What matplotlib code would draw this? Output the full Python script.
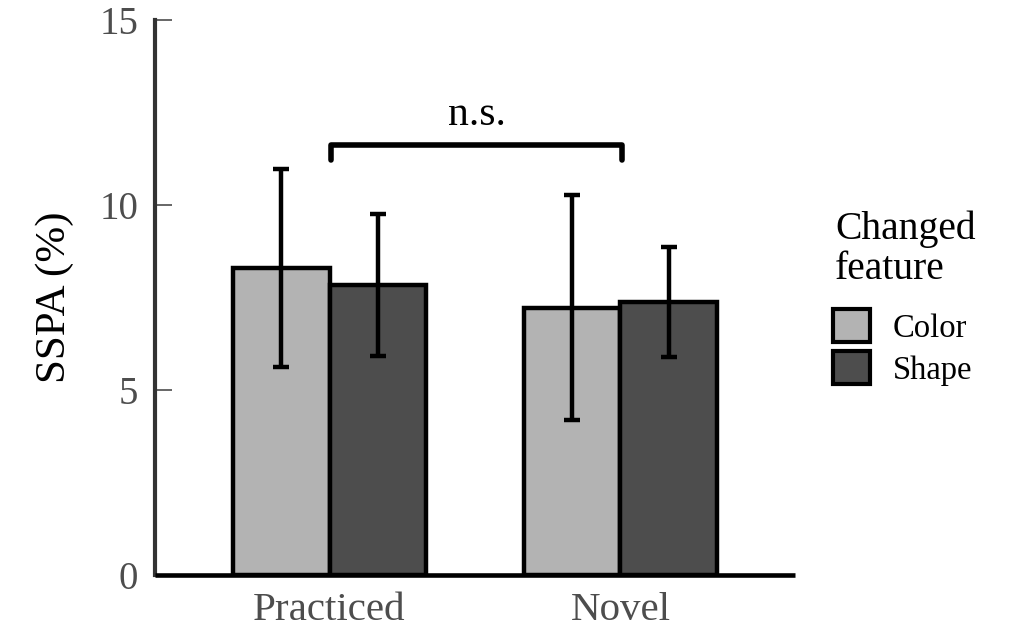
import numpy as np
import matplotlib
matplotlib.use("Agg")
import matplotlib.pyplot as plt

plt.rcParams['font.family'] = ['Liberation Serif', 'DejaVu Serif']

# data
groups = ['Practiced', 'Novel']
features = ['Color', 'Shape']
means = {'Color': [8.30, 7.22], 'Shape': [7.84, 7.38]}
errors = {'Color': [2.68, 3.04], 'Shape': [1.93, 1.48]}
colors = {'Color': '#b3b3b3', 'Shape': '#4d4d4d'}
yticks = [0, 5, 10, 15]

fig = plt.figure(figsize=(10.13, 6.27), dpi=100)
ax = fig.add_axes([155 / 1013, 1 - 575 / 627, 640 / 1013, 555 / 627])

x = np.arange(1, len(groups) + 1)
width = 0.333
offsets = {'Color': -width / 2, 'Shape': width / 2}

for f in features:
    ax.bar(x + offsets[f], means[f], width=width, color=colors[f],
           edgecolor='black', linewidth=3.2, label=f, zorder=2)
    ax.errorbar(x + offsets[f], means[f], yerr=errors[f], fmt='none',
                ecolor='black', elinewidth=3.2, capsize=5.5, capthick=3.2, zorder=3)

# significance bracket
bx0 = x[0] + 0.005
bx1 = x[1] + 0.005
ax.plot([bx0, bx0, bx1, bx1], [11.22, 11.62, 11.62, 11.22], color='black',
        linewidth=4, solid_capstyle='round', solid_joinstyle='round', zorder=3)
ax.text((bx0 + bx1) / 2, 12.16, 'n.s.', ha='center', va='baseline', fontsize=30)

ax.set_xlim(0.4, 2.6)
ax.set_ylim(0, 15)
ax.set_xticks(x)
ax.set_xticklabels(groups)
ax.set_yticks(yticks)
ax.tick_params(axis='x', length=0, pad=12, labelsize=29.5, labelcolor='#4d4d4d')
ax.tick_params(axis='y', direction='in', length=12, width=1.2, color='#4d4d4d',
               pad=12, labelsize=28, labelcolor='#4d4d4d')
for s in ['top', 'right']:
    ax.spines[s].set_visible(False)
ax.spines['left'].set_linewidth(3)
ax.spines['left'].set_color('#333333')
ax.spines['bottom'].set_linewidth(3.3)
ax.spines['bottom'].set_capstyle('butt')
ax.set_ylabel('SSPA (%)', fontsize=31, labelpad=18)

# legend title drawn as text, entries below it
fig.text(835 / 1013, 1 - 211 / 627, 'Changed\nfeature', ha='left', va='top',
         fontsize=28.5, linespacing=1.1)
leg = ax.legend(loc='upper left', bbox_to_anchor=(833 / 1013, 1 - 309 / 627),
                bbox_transform=fig.transFigure, frameon=False, fontsize=23.5,
                handlelength=1.13, handleheight=1.2, handletextpad=0.7,
                labelspacing=0.22, borderpad=0, borderaxespad=0)
for h in leg.legend_handles:
    h.set_linewidth(3)

fig.savefig('out.png', dpi=100)
